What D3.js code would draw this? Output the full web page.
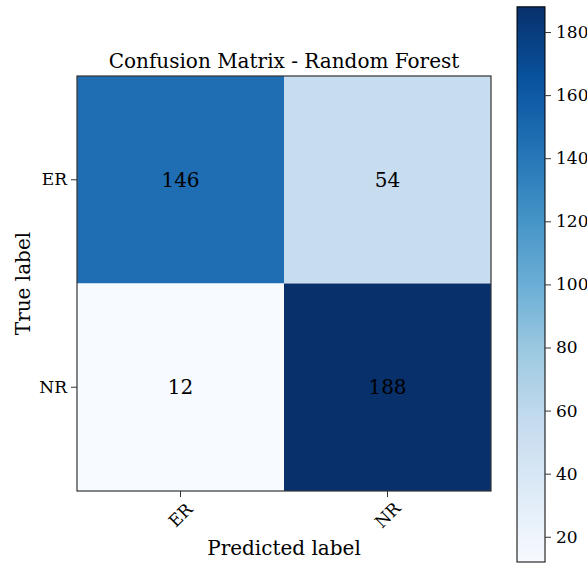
<!DOCTYPE html>
<html><head><meta charset="utf-8">
<script src="https://cdn.jsdelivr.net/npm/d3@7"></script>
<style>body{margin:0;background:#fff;} text{font-family:"DejaVu Serif",serif;fill:#000;}</style>
</head><body><svg id="c" width="587" height="565"></svg>
<script>
const classes = ["ER", "NR"];
const trueLabels = ["ER", "NR"];
const matrix = [[146, 54], [12, 188]];
const cbTicks = [20, 40, 60, 80, 100, 120, 140, 160, 180];
const title = "Confusion Matrix - Random Forest";

const svg = d3.select("#c");
const L = 77, T = 76, R = 491, B = 491;
const x = d3.scaleBand().domain(classes).range([L, R]);
const y = d3.scaleBand().domain(trueLabels).range([T, B]);
const flat = matrix.flat();
const vmin = d3.min(flat), vmax = d3.max(flat);
const blues = ["#f7fbff","#deebf7","#c6dbef","#9ecae1","#6baed6","#4292c6","#2171b5","#08519c","#08306b"];
const color = d3.scaleLinear().domain(blues.map((d,i)=>vmin + (vmax-vmin)*i/(blues.length-1))).range(blues).interpolate(d3.interpolateRgb);

const cells = [];
trueLabels.forEach((t,i)=>classes.forEach((p,j)=>cells.push({t,p,v:matrix[i][j]})));
svg.selectAll("rect.cell").data(cells).join("rect")
  .attr("x",d=>x(d.p)).attr("y",d=>y(d.t)).attr("width",x.bandwidth()).attr("height",y.bandwidth())
  .attr("fill",d=>color(d.v));
svg.selectAll("text.val").data(cells).join("text")
  .attr("x",d=>x(d.p)+x.bandwidth()/2).attr("y",d=>y(d.t)+y.bandwidth()/2)
  .attr("text-anchor","middle").attr("dominant-baseline","central").style("font-size","20px").text(d=>d.v);
svg.append("rect").attr("x",L).attr("y",T).attr("width",R-L).attr("height",B-T).attr("fill","none").attr("stroke","#333").attr("stroke-width",1.2);

// axes
const xa = svg.append("g").attr("transform",`translate(0,${B})`).call(d3.axisBottom(x).tickSize(6).tickPadding(4));
xa.select(".domain").remove();
xa.selectAll("line").attr("stroke","#333");
xa.selectAll("text").style("font-size","17px").attr("text-anchor","middle").attr("dy",null)
  .attr("dominant-baseline","central").attr("y",0).attr("x",0)
  .attr("transform","translate(0,24) rotate(-45)");
const ya = svg.append("g").attr("transform",`translate(${L},0)`).call(d3.axisLeft(y).tickSize(6).tickPadding(4));
ya.select(".domain").remove();
ya.selectAll("line").attr("stroke","#333");
ya.selectAll("text").style("font-size","17px");

svg.append("text").attr("x",(L+R)/2).attr("y",68).attr("text-anchor","middle").style("font-size","20px").text(title);
svg.append("text").attr("x",(L+R)/2).attr("y",555).attr("text-anchor","middle").style("font-size","20px").text("Predicted label");
svg.append("text").attr("transform",`translate(30,${(T+B)/2}) rotate(-90)`).attr("text-anchor","middle").style("font-size","20px").text("True label");

// colorbar
const cbL = 517, cbR = 545, cbT = 6.8, cbB = 562;
const cy = d3.scaleLinear().domain([vmin, vmax]).range([cbB, cbT]);
const defs = svg.append("defs");
const grad = defs.append("linearGradient").attr("id","g").attr("x1",0).attr("y1",1).attr("x2",0).attr("y2",0);
d3.range(0,1.0001,0.02).forEach(t=>grad.append("stop").attr("offset",t).attr("stop-color",color(vmin+(vmax-vmin)*t)));
svg.append("rect").attr("x",cbL).attr("y",cbT).attr("width",cbR-cbL).attr("height",cbB-cbT).attr("fill","url(#g)").attr("stroke","#000").attr("stroke-width",1);
const ca = svg.append("g").attr("transform",`translate(${cbR},0)`).call(d3.axisRight(cy).tickValues(cbTicks).tickSize(6).tickPadding(5));
ca.select(".domain").remove();
ca.selectAll("line").attr("stroke","#333");
ca.selectAll("text").style("font-size","17px");
</script></body></html>
